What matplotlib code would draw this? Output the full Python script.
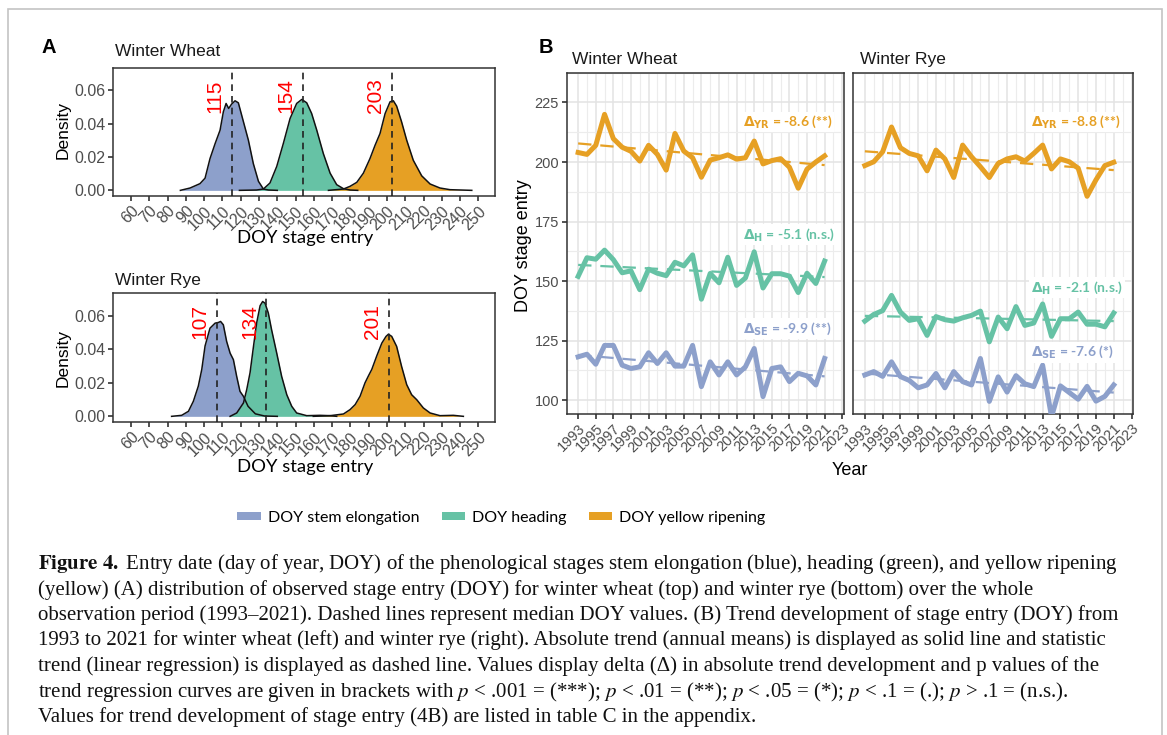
import numpy as np
import matplotlib
matplotlib.use("Agg")
import matplotlib.pyplot as plt
import matplotlib.patches as mpatches

W, H, DPI = 1167, 735, 100

BLUE = "#8DA0CB"
GREEN = "#66C2A5"
GOLD = "#E6A024"
TICK = "#4d4d4d"

# ---- panel A: densities (DOY, density) ----
wheat_se_doy = [87, 92.3, 97.7, 100.5, 103.2, 106, 108.7, 110.5, 112, 113.4, 115, 116.9, 118.7,
                121.5, 124.2, 126.9, 129.7, 132.4, 135.1, 140]
wheat_se_dens = [0, 0.0014, 0.004, 0.0073, 0.019, 0.028, 0.036, 0.047, 0.052, 0.049, 0.0516, 0.0536,
                 0.0524, 0.041, 0.030, 0.016, 0.0054, 0.0008, 0.0002, 0]
wheat_h_doy = [119.3, 128.7, 132.4, 136, 139.7, 143.3, 147, 150.6, 153.4, 156.1, 158.8, 161.6, 165.2,
               168.9, 172.5, 176.2, 179.8, 184]
wheat_h_dens = [0, 0.0002, 0.0008, 0.0044, 0.0143, 0.028, 0.043, 0.052, 0.0544, 0.0524, 0.046, 0.036,
                0.022, 0.0103, 0.0034, 0.001, 0.0002, 0]
wheat_yr_doy = [168, 176.2, 179.8, 183.5, 187.1, 190.7, 193.5, 196.2, 199, 201.7, 203.5, 205.3, 208,
                210.8, 214.4, 219, 223.6, 229, 234.5, 246.4]
wheat_yr_dens = [0, 0.0008, 0.0024, 0.0048, 0.0103, 0.019, 0.027, 0.034, 0.046, 0.053, 0.0536, 0.0504,
                 0.041, 0.030, 0.018, 0.0087, 0.0038, 0.0014, 0.0004, 0]

rye_se_doy = [82.2, 87.7, 91.4, 94.1, 96.8, 98.7, 100.5, 103.2, 106, 107.8, 109, 110.5, 112.3, 114.2,
              116, 117.8, 119.6, 121.5, 124, 128, 133, 140]
rye_se_dens = [0, 0.0006, 0.003, 0.009, 0.018, 0.028, 0.042, 0.0526, 0.0556, 0.056, 0.0566, 0.0546,
               0.0447, 0.0377, 0.0338, 0.0238, 0.0149, 0.0119, 0.006, 0.0015, 0.0002, 0]
rye_h_doy = [114.2, 117.8, 121.5, 123.3, 125.1, 126.9, 128.7, 130.6, 132, 133.3, 135.1, 136.9, 139.7,
             142.4, 145.2, 147.9, 150.6, 156.1, 163.4, 168.9, 172.5]
rye_h_dens = [0, 0.002, 0.008, 0.016, 0.026, 0.041, 0.0556, 0.066, 0.0685, 0.0675, 0.0616, 0.0516,
              0.0377, 0.0238, 0.0129, 0.006, 0.002, 0.0004, 0.0006, 0.0004, 0]
rye_yr_doy = [159.7, 168.9, 176.2, 179.8, 182.6, 185.3, 188, 189.9, 191.7, 194.4, 197.2, 199.5, 200.8,
              202.6, 205.3, 208, 210.8, 213.5, 216.3, 219.9, 223.6, 229, 236.3, 241.8]
rye_yr_dens = [0, 0.0004, 0.0014, 0.004, 0.007, 0.012, 0.020, 0.0242, 0.028, 0.036, 0.0437, 0.0477,
               0.049, 0.0477, 0.0417, 0.0298, 0.0189, 0.0129, 0.0099, 0.005, 0.002, 0.0004, 0.0006, 0]

wheat_medians = [115, 154, 203]
rye_medians = [107, 134, 201]

# ---- panel B: annual means 1993-2021 ----
years = list(range(1993, 2022))
wheat_se = [118.2, 119.3, 115.1, 123, 123, 114.7, 113.3, 114, 119.9, 115.4, 119.9, 114.3, 114.3, 123,
            105.7, 116.1, 110.6, 116.1, 110.6, 114, 121.7, 101.5, 113.3, 114, 107.8, 111.3, 110.2, 106.4, 117.5]
wheat_h = [152, 159.8, 159.2, 163, 159, 153.5, 154.3, 146.4, 155, 153.3, 152.3, 157.9, 156.4, 161,
           142.4, 153.2, 149.3, 160, 148.2, 151.3, 162.3, 147.1, 153.1, 153.1, 152.1, 145.2, 153.3, 149, 158.4]
wheat_yr = [204, 203.2, 207, 220, 209.8, 206.2, 204.5, 200.4, 207, 203.2, 196.6, 212, 204.6, 201.8,
            193.6, 200.8, 201.8, 203, 201.2, 201.8, 208.8, 199.2, 200.6, 201.4, 197.8, 189, 197, 200, 202.6]
rye_se = [110.6, 112, 110, 116.1, 109.9, 108.3, 105.2, 106.4, 111.2, 105.2, 112, 107.8, 106.4, 117.5,
          99.5, 109.8, 103.4, 110.3, 106.9, 105.7, 114.7, 93, 106, 103.2, 100.4, 105.8, 99.6, 101.6, 106.4]
rye_h = [133.2, 136, 137.6, 144, 137, 133.5, 134.2, 127.2, 135.1, 133.8, 133.2, 134.6, 135.6, 137.4,
         124.5, 134.9, 130, 139.3, 131.4, 132.4, 140.4, 126.8, 134.2, 134.2, 137, 131.9, 131.9, 130.8, 136.6]
rye_yr = [198.5, 200.1, 204.3, 214.7, 206, 203.6, 202.6, 196.3, 205, 201.3, 193.5, 207.1, 202.2, 198,
          193.5, 199.4, 201.3, 202.2, 200.4, 203.6, 207.1, 197.1, 201.3, 200.1, 197.4, 185.6, 192.5, 198.5, 199.9]

# linear trend end points (1993, 2021)
trend_years = [1993, 2021]
wheat_trend_se = [119.0, 110.0]
wheat_trend_h = [156.8, 151.7]
wheat_trend_yr = [207.8, 198.7]
rye_trend_se = [111.2, 103.2]
rye_trend_h = [135.4, 133.2]
rye_trend_yr = [204.5, 196.6]

wheat_delta = [("SE", "-9.9 (**)", 130.1), ("H", "-5.1 (n.s.)", 169.6), ("YR", "-8.6 (**)", 216.8)]
rye_delta = [("SE", "-7.6 (*)", 120.2), ("H", "-2.1 (n.s.)", 147.3), ("YR", "-8.8 (**)", 216.8)]

legend_labels = ["DOY stem elongation", "DOY heading", "DOY yellow ripening"]
colors = [BLUE, GREEN, GOLD]

caption = [
    r"$\mathbf{Figure\ 4.\ }$Entry date (day of year, DOY) of the phenological stages stem elongation (blue), heading (green), and yellow ripening",
    "(yellow) (A) distribution of observed stage entry (DOY) for winter wheat (top) and winter rye (bottom) over the whole",
    "observation period (1993\u20132021). Dashed lines represent median DOY values. (B) Trend development of stage entry (DOY) from",
    "1993 to 2021 for winter wheat (left) and winter rye (right). Absolute trend (annual means) is displayed as solid line and statistic",
    "trend (linear regression) is displayed as dashed line. Values display delta (\u0394) in absolute trend development and p values of the",
    r"trend regression curves are given in brackets with $p$ < .001 = (***); $p$ < .01 = (**); $p$ < .05 = (*); $p$ < .1 = (.); $p$ > .1 = (n.s.).",
    "Values for trend development of stage entry (4B) are listed in table C in the appendix.",
]

SANS = "Liberation Sans"
CAL = "Lato"

fig = plt.figure(figsize=(W / DPI, H / DPI), dpi=DPI)
fig.patch.set_facecolor("white")


def px_axes(l, t, r, b):
    return fig.add_axes([l / W, 1 - b / H, (r - l) / W, (b - t) / H])


def ftext(x, y, s, **kw):
    return fig.text(x / W, 1 - y / H, s, **kw)


# outer frame
fig.patches.append(mpatches.Rectangle((8 / W, -0.05), (1162 - 8) / W, 1.05 - 9 / H,
                                      transform=fig.transFigure, fill=False,
                                      edgecolor="#c4c4c4", lw=1.2, clip_on=False))

# ---------------- panel A ----------------
def density_panel(ax, curves, medians):
    for doy, dens, col in curves:
        ax.fill_between(doy, dens, 0, color=col, lw=0, zorder=2)
        ax.plot(doy, dens, color="#111111", lw=1.1, zorder=3)
    for m in medians:
        ax.axvline(m, color="#222222", ls=(0, (4, 3)), lw=1.2, zorder=4)
        ax.annotate(str(m), xy=(m, 0.0565), xytext=(-12, 0), textcoords="offset points",
                    rotation=90, color="red", ha="center", va="center", fontsize=15,
                    family=SANS)
    ax.set_xlim(50.3, 259.1)
    ax.set_ylim(-0.0032, 0.0734)
    ax.set_xticks(range(60, 251, 10))
    ax.set_yticks([0, 0.02, 0.04, 0.06])
    ax.set_yticklabels(["0.00", "0.02", "0.04", "0.06"])
    ax.tick_params(direction="out", length=3.5, width=1.2, color="#333333",
                   labelcolor=TICK, labelsize=11.5, pad=2)
    for lab in ax.get_xticklabels() + ax.get_yticklabels():
        lab.set_family(SANS)
    plt.setp(ax.get_xticklabels(), rotation=45, ha="right", va="top", rotation_mode="anchor")
    for sp in ax.spines.values():
        sp.set_color("#333333")
        sp.set_linewidth(1.1)


axA1 = px_axes(113.3, 67.7, 495, 195.7)
density_panel(axA1, [(wheat_se_doy, wheat_se_dens, BLUE), (wheat_h_doy, wheat_h_dens, GREEN),
                     (wheat_yr_doy, wheat_yr_dens, GOLD)], wheat_medians)
axA2 = px_axes(113.3, 293.3, 495, 421.7)
density_panel(axA2, [(rye_se_doy, rye_se_dens, BLUE), (rye_h_doy, rye_h_dens, GREEN),
                     (rye_yr_doy, rye_yr_dens, GOLD)], rye_medians)

ftext(41, 53, "A", fontsize=14.5, weight="bold", family=SANS, va="baseline")
ftext(115, 56.5, "Winter Wheat", fontsize=12.5, family=SANS, va="baseline", color="#1a1a1a")
ftext(115, 284.5, "Winter Rye", fontsize=12.5, family=SANS, va="baseline", color="#1a1a1a")
ftext(63.5, 130, "Density", fontsize=12.5, family=SANS, rotation=90, ha="center", va="center")
ftext(63.5, 358, "Density", fontsize=12.5, family=SANS, rotation=90, ha="center", va="center")
ftext(305, 238, "DOY stage entry", fontsize=13.3, family=CAL, ha="center", va="center")
ftext(305, 467, "DOY stage entry", fontsize=13.3, family=CAL, ha="center", va="center")

# ---------------- panel B ----------------
def trend_panel(ax, series, trends, deltas, show_y):
    for vals, tr, col in zip(series, trends, colors):
        ax.plot(years, vals, color=col, lw=3.6, solid_joinstyle="round", zorder=3)
        ax.plot(trend_years, tr, color=col, lw=1.6, ls=(0, (6, 4)), zorder=4)
    for (sub, txt, yv), col in zip(deltas, colors):
        ax.text(2011.7, yv, r"$\mathbf{\Delta}_{\mathbf{" + sub + "}}$ = " + txt, color=col,
                fontsize=10, weight="bold", family=CAL, math_fontfamily="dejavusans",
                ha="left", va="center", zorder=5,
                bbox=dict(facecolor="white", edgecolor="none", pad=1.5))
    ax.set_xlim(1991.7, 2023.2)
    ax.set_ylim(94.2, 236.5)
    ax.set_xticks(range(1993, 2024, 2))
    ax.set_xticks(range(1994, 2023, 2), minor=True)
    ax.set_yticks([100, 125, 150, 175, 200, 225])
    ax.set_yticks([112.5, 137.5, 162.5, 187.5, 212.5, 237.5], minor=True)
    ax.set_axisbelow(True)
    ax.grid(which="major", color="#e3e3e3", lw=1.1)
    ax.grid(which="minor", color="#ececec", lw=0.8)
    ax.tick_params(which="minor", length=0)
    ax.tick_params(which="major", direction="out", length=3.5, width=1.2, color="#333333",
                   labelcolor=TICK, labelsize=10.5, pad=2)
    if not show_y:
        ax.tick_params(axis="y", which="both", left=False, labelleft=False)
    for lab in ax.get_xticklabels() + ax.get_yticklabels():
        lab.set_family(SANS)
    plt.setp(ax.get_xticklabels(), rotation=45, ha="right", va="top", rotation_mode="anchor")
    for sp in ax.spines.values():
        sp.set_color("#333333")
        sp.set_linewidth(1.1)


axB1 = px_axes(566.7, 72.7, 844, 414)
trend_panel(axB1, [wheat_se, wheat_h, wheat_yr],
            [wheat_trend_se, wheat_trend_h, wheat_trend_yr], wheat_delta, True)
axB2 = px_axes(853.3, 72.7, 1133.3, 414)
trend_panel(axB2, [rye_se, rye_h, rye_yr],
            [rye_trend_se, rye_trend_h, rye_trend_yr], rye_delta, False)

ftext(539, 53, "B", fontsize=14.5, weight="bold", family=SANS, va="baseline")
ftext(571.7, 63.5, "Winter Wheat", fontsize=12.5, family=SANS, va="baseline", color="#1a1a1a")
ftext(860, 64, "Winter Rye", fontsize=12.5, family=SANS, va="baseline", color="#1a1a1a")
ftext(523, 246, "DOY stage entry", fontsize=13, family=SANS, rotation=90, ha="center", va="center")
ftext(850, 470, "Year", fontsize=13, family=SANS, ha="center", va="center")

# ---------------- legend ----------------
handles = [mpatches.Patch(facecolor=c, edgecolor="none") for c in colors]
fig.legend(handles, legend_labels, loc="center", bbox_to_anchor=(501.5 / W, 1 - 517.7 / H),
           ncol=3, frameon=False, prop=dict(family=CAL, size=11.5), handlelength=1.45,
           handleheight=0.42, handletextpad=0.45, columnspacing=1.4)

# ---------------- caption ----------------
for i, line in enumerate(caption):
    ftext(38, 569 + i * 25.5, line, fontsize=15, family="Liberation Serif",
          math_fontfamily="stix", va="baseline", color="#111111")

fig.savefig("out.png", dpi=DPI, facecolor="white")
